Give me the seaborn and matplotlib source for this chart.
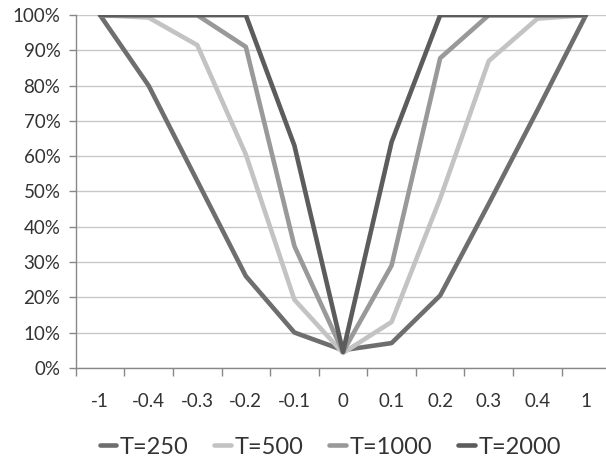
import matplotlib
matplotlib.use("Agg")
import matplotlib.pyplot as plt
import seaborn as sns
import pandas as pd
from matplotlib.ticker import FixedLocator, PercentFormatter

categories = ["-1", "-0.4", "-0.3", "-0.2", "-0.1", "0", "0.1", "0.2", "0.3", "0.4", "1"]
t250 = [100, 80, 53, 26, 10, 5, 7, 20.5, 46.5, 73, 100]
t500 = [100, 99.3, 91.5, 60.5, 19.3, 4.2, 13, 48, 87, 99, 100]
t1000 = [100, 100, 100, 91, 34.5, 4.5, 29, 87.8, 100, 100, 100]
t2000 = [100, 100, 100, 100, 63, 4.5, 64, 100, 100, 100, 100]
series_names = ["T=250", "T=500", "T=1000", "T=2000"]
colors = ["#6e6e6e", "#c3c3c3", "#999999", "#5c5c5c"]

rows = []
for name, vals in zip(series_names, [t250, t500, t1000, t2000]):
    for i, (c, v) in enumerate(zip(categories, vals)):
        rows.append({"idx": i, "x": c, "value": v, "series": name})
df = pd.DataFrame(rows)

sns.set_theme(style="white")
plt.rcParams["font.family"] = ["Lato", "DejaVu Sans"]

fig = plt.figure(figsize=(6.06, 4.58), dpi=100)
ax = fig.add_axes([0.125, 0.197, 0.882, 0.77])

sns.lineplot(data=df, x="idx", y="value", hue="series", palette=colors,
             hue_order=series_names, linewidth=3.3, ax=ax, legend=True, sort=True)

ax.set_xlim(-0.5, 10.5)
ax.set_ylim(0, 100)
ax.set_yticks(range(0, 101, 10))
ax.yaxis.set_major_formatter(PercentFormatter(decimals=0))
ax.set_xticks(range(len(categories)))
ax.set_xticklabels(categories)
ax.xaxis.set_minor_locator(FixedLocator([i - 0.5 for i in range(len(categories) + 1)]))
ax.tick_params(axis="x", which="major", length=0, pad=18, labelsize=13.5, colors="#333333")
ax.tick_params(axis="x", which="minor", length=6, width=1, color="#888888", direction="out", bottom=True)
ax.tick_params(axis="y", length=5, width=1, color="#888888", direction="out", left=True,
               labelsize=13.5, colors="#333333", pad=6)
ax.yaxis.grid(True, color="#c8c8c8", linewidth=1)
ax.xaxis.grid(False)
ax.set_axisbelow(True)
for s in ["top", "right"]:
    ax.spines[s].set_visible(False)
for s in ["left", "bottom"]:
    ax.spines[s].set_color("#888888")
    ax.spines[s].set_linewidth(1)
ax.set_xlabel("")
ax.set_ylabel("")

handles, labels = ax.get_legend_handles_labels()
ax.legend(handles, labels, loc="upper center", bbox_to_anchor=(0.476, -0.135), ncol=4,
          frameon=False, fontsize=17, handlelength=0.7, handletextpad=0.15,
          columnspacing=1.1, labelcolor="#333333")

fig.savefig("out.png", dpi=100)
